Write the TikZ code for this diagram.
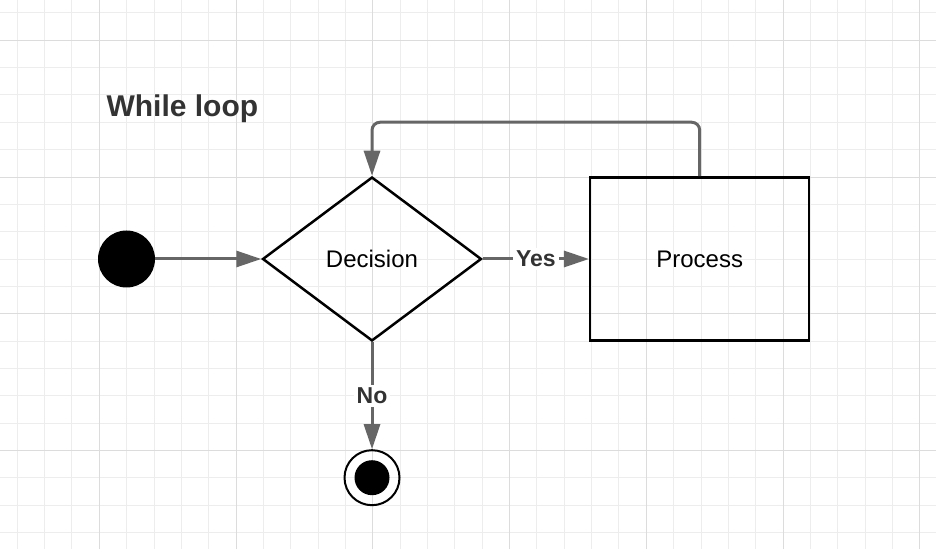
\documentclass[tikz,border=0pt]{standalone}
\usepackage{fontspec}
\setmainfont{Liberation Sans}
\usetikzlibrary{shapes.geometric,arrows.meta,positioning}
\definecolor{gridminor}{HTML}{EDEDED}
\definecolor{gridmajor}{HTML}{DCDCDC}
\definecolor{flowgray}{HTML}{666666}
\definecolor{textgray}{HTML}{333333}
\begin{document}
\begin{tikzpicture}[x=1pt,y=1pt,
  flow/.style={draw=flowgray, line width=3pt, -{Triangle[length=25pt,width=16pt]}},
  lbl/.style={fill=white, text=textgray, inner sep=3pt, font=\fontsize{23}{27}\selectfont\bfseries},
  shapetext/.style={font=\fontsize{24}{28}\selectfont}]
\useasboundingbox (0,0) rectangle (936,549);
\fill[white] (0,0) rectangle (936,549);
% grid
\begin{scope}[shift={(99.3,508.7)}]
\draw[color=gridminor, line width=1pt, xstep=27.35pt, ystep=27.35pt] (-99.3,-508.7) grid (836.7,40.3);
\draw[color=gridmajor, line width=1pt, xstep=136.75pt, ystep=136.75pt] (-99.3,-508.7) grid (836.7,40.3);
\end{scope}
\node[anchor=base west, text=textgray, font=\fontsize{30}{35}\selectfont\bfseries] (title) at (103,432) {While loop};
% states
\node[circle, fill=black, minimum size=57pt, inner sep=0pt] (start) at (126.5,290) {};
\node[diamond, draw=black, line width=2.5pt, minimum width=219pt, minimum height=164pt, inner sep=0pt, shapetext] (decision) at (372,290) {Decision};
\node[rectangle, draw=black, line width=2.5pt, minimum width=219pt, minimum height=163pt, shapetext] (process) at (699.7,290) {Process};
\node[circle, draw=black, line width=2pt, minimum size=55pt, inner sep=0pt] (final) at (372,71.3) {};
\node[circle, fill=black, minimum size=35pt, inner sep=0pt] (finaldot) at (final.center) {};
% connectors
\draw[flow] (start) -- (decision);
\draw[flow] (decision) -- node[lbl] {Yes} (process);
\draw[flow] (decision) -- node[lbl] {No} (final);
\draw[flow, rounded corners=8pt] (process.north) -- ++(0,54) -| (decision.north);
\end{tikzpicture}
\end{document}
